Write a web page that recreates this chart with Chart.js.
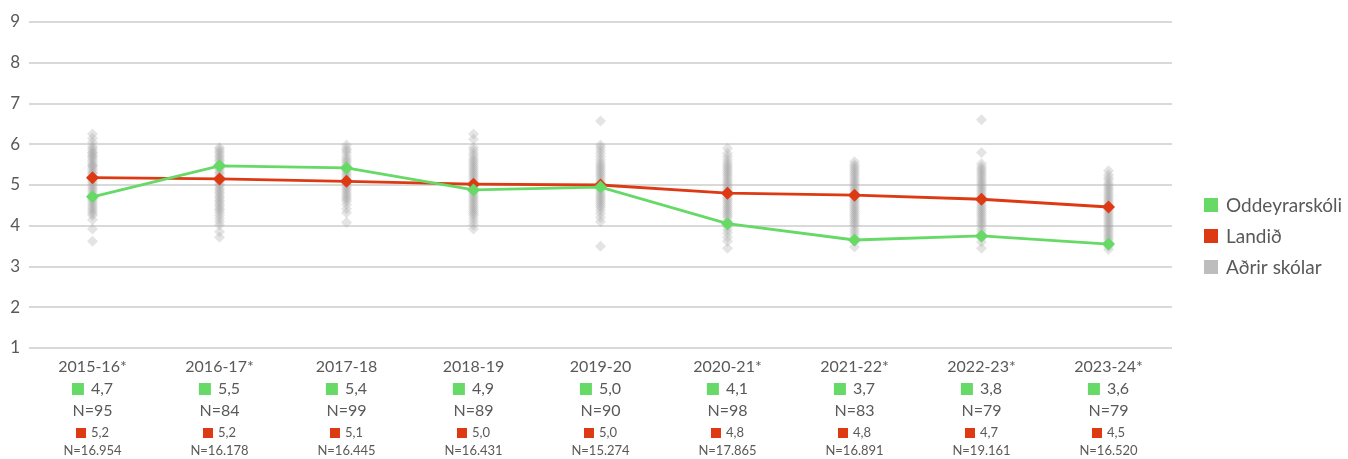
<!DOCTYPE html>
<html>
<head>
<meta charset="utf-8">
<script src="https://cdn.jsdelivr.net/npm/chart.js@4"></script>
<style>
html,body{margin:0;padding:0;background:#fff;}
#wrap{width:1348px;height:459px;}
</style>
</head>
<body>
<div id="wrap"><canvas id="c" width="1348" height="459"></canvas></div>
<script>
const categories = ['2015-16*','2016-17*','2017-18','2018-19','2019-20','2020-21*','2021-22*','2022-23*','2023-24*'];
const seriesNames = ['Oddeyrarskóli','Landið','Aðrir skólar'];
const oddeyrarskoli = [4.71, 5.47, 5.42, 4.88, 4.95, 4.05, 3.65, 3.75, 3.55];
const landid = [5.18, 5.15, 5.09, 5.02, 5.0, 4.8, 4.75, 4.65, 4.46];
const oddeyrarskoliLabels = ['4,7','5,5','5,4','4,9','5,0','4,1','3,7','3,8','3,6'];
const oddeyrarskoliN = ['95','84','99','89','90','98','83','79','79'];
const landidLabels = ['5,2','5,2','5,1','5,0','5,0','4,8','4,8','4,7','4,5'];
const landidN = ['16.954','16.178','16.445','16.431','15.274','17.865','16.891','19.161','16.520'];
const yTicks = [1,2,3,4,5,6,7,8,9];

const others1516 = [6.25,6.15,6.05,5.95,5.9,5.85,5.8,5.78,5.72,5.7,5.65,5.6,5.55,5.5,5.48,5.45,5.4,5.35,5.3,5.28,5.22,5.2,5.15,5.1,5.05,5.0,4.95,4.9,4.85,4.8,4.75,4.7,4.65,4.6,4.55,4.5,4.45,4.4,4.35,4.3,4.25,4.15,3.92,3.62];
const others1617 = [5.92,5.88,5.82,5.78,5.72,5.68,5.62,5.58,5.52,5.48,5.42,5.38,5.32,5.28,5.22,5.18,5.12,5.08,5.02,4.98,4.92,4.88,4.82,4.78,4.72,4.68,4.62,4.58,4.52,4.48,4.42,4.38,4.32,4.25,4.18,4.1,4.02,3.85,3.72];
const others1718 = [5.98,5.9,5.85,5.8,5.72,5.65,5.6,5.55,5.5,5.45,5.4,5.35,5.3,5.25,5.2,5.15,5.1,5.05,5.0,4.95,4.9,4.85,4.8,4.75,4.7,4.65,4.6,4.52,4.42,4.32,4.08];
const others1819 = [6.25,6.12,5.92,5.85,5.78,5.72,5.65,5.6,5.55,5.5,5.45,5.4,5.35,5.3,5.25,5.2,5.15,5.1,5.05,5.0,4.95,4.9,4.85,4.8,4.75,4.7,4.65,4.6,4.55,4.5,4.45,4.4,4.35,4.3,4.25,4.18,4.1,4.02,3.92];
const others1920 = [6.57,5.98,5.92,5.85,5.78,5.7,5.62,5.55,5.5,5.45,5.4,5.35,5.3,5.25,5.2,5.15,5.1,5.05,5.0,4.95,4.9,4.85,4.8,4.75,4.7,4.65,4.6,4.55,4.5,4.45,4.38,4.3,4.2,4.1,3.5];
const others2021 = [5.9,5.78,5.7,5.62,5.55,5.5,5.45,5.4,5.35,5.3,5.25,5.2,5.15,5.1,5.05,5.0,4.95,4.9,4.85,4.8,4.75,4.7,4.65,4.6,4.55,4.5,4.45,4.4,4.35,4.3,4.25,4.2,4.12,4.05,3.98,3.9,3.82,3.72,3.62,3.45];
const others2122 = [5.57,5.5,5.45,5.4,5.35,5.3,5.25,5.2,5.15,5.1,5.05,5.0,4.95,4.9,4.85,4.8,4.75,4.7,4.65,4.6,4.55,4.5,4.45,4.4,4.35,4.3,4.25,4.2,4.15,4.1,4.05,4.0,3.92,3.85,3.78,3.7,3.62,3.48];
const others2223 = [6.6,5.8,5.52,5.45,5.4,5.35,5.3,5.25,5.2,5.15,5.1,5.05,5.0,4.95,4.9,4.85,4.8,4.75,4.7,4.65,4.6,4.55,4.5,4.45,4.4,4.35,4.3,4.25,4.2,4.15,4.1,4.05,4.0,3.92,3.85,3.78,3.7,3.6,3.45];
const others2324 = [5.35,5.25,5.18,5.12,5.05,5.0,4.95,4.9,4.85,4.8,4.75,4.7,4.65,4.6,4.55,4.5,4.45,4.4,4.35,4.3,4.25,4.2,4.15,4.1,4.05,4.0,3.95,3.9,3.85,3.8,3.75,3.7,3.65,3.58,3.5,3.42];
const otherSchools = [others1516,others1617,others1718,others1819,others1920,others2021,others2122,others2223,others2324];

const GREEN = '#66d966';
const RED = '#dd3a13';
const GRAY = '#bdbdbd';
const TEXT = '#595959';
const FONT = 'Lato, "Open Sans", sans-serif';

const otherPoints = [];
otherSchools.forEach((vals, i) => vals.forEach(v => otherPoints.push({x: categories[i], y: v})));

const labelsPlugin = {
  id: 'extraLabels',
  afterDraw(chart) {
    const ctx = chart.ctx;
    const xs = chart.scales.x;
    ctx.save();
    ctx.fillStyle = TEXT;
    ctx.textBaseline = 'middle';
    categories.forEach((c, i) => {
      const x = xs.getPixelForValue(i);
      ctx.font = '16px ' + FONT;
      let t = oddeyrarskoliLabels[i];
      let w = ctx.measureText(t).width;
      let sq = 12, gap = 7;
      let start = x - (sq + gap + w) / 2;
      ctx.fillStyle = GREEN;
      ctx.fillRect(start, 389 - sq / 2, sq, sq);
      ctx.fillStyle = TEXT;
      ctx.textAlign = 'left';
      ctx.fillText(t, start + sq + gap, 389);
      ctx.textAlign = 'center';
      ctx.fillText('N=' + oddeyrarskoliN[i], x, 411);
      ctx.font = '13px ' + FONT;
      t = landidLabels[i];
      w = ctx.measureText(t).width;
      sq = 10; gap = 5;
      start = x - (sq + gap + w) / 2;
      ctx.fillStyle = RED;
      ctx.fillRect(start, 433 - sq / 2, sq, sq);
      ctx.fillStyle = TEXT;
      ctx.textAlign = 'left';
      ctx.fillText(t, start + sq + gap, 433);
      ctx.textAlign = 'center';
      ctx.fillText('N=' + landidN[i], x, 451);
    });
    const colors = [GREEN, RED, GRAY];
    const ys = [205, 236, 267];
    ctx.font = '19px ' + FONT;
    ctx.textAlign = 'left';
    seriesNames.forEach((n, i) => {
      ctx.fillStyle = colors[i];
      ctx.fillRect(1204, ys[i] - 7, 14, 14);
      ctx.fillStyle = TEXT;
      ctx.fillText(n, 1226, ys[i] + 1);
    });
    ctx.restore();
  }
};

new Chart(document.getElementById('c'), {
  type: 'line',
  data: {
    labels: categories,
    datasets: [
      {
        label: seriesNames[0], data: oddeyrarskoli,
        borderColor: GREEN, backgroundColor: GREEN, borderWidth: 2.8, tension: 0,
        pointStyle: 'rectRot', pointRadius: 6.5, pointBackgroundColor: GREEN, pointBorderWidth: 0
      },
      {
        label: seriesNames[1], data: landid,
        borderColor: RED, backgroundColor: RED, borderWidth: 2.8, tension: 0,
        pointStyle: 'rectRot', pointRadius: 6.5, pointBackgroundColor: RED, pointBorderWidth: 0
      },
      {
        type: 'scatter', label: seriesNames[2], data: otherPoints,
        borderColor: GRAY, backgroundColor: GRAY, showLine: false,
        pointStyle: 'rectRot', pointRadius: 5.5, pointBackgroundColor: 'rgba(165,165,165,0.3)', pointBorderWidth: 0
      }
    ]
  },
  options: {
    responsive: false,
    animation: false,
    devicePixelRatio: 1,
    layout: { padding: { top: 22, right: 176, left: 0, bottom: 0 } },
    plugins: { legend: { display: false }, tooltip: { enabled: false } },
    scales: {
      x: {
        type: 'category',
        offset: true,
        afterFit(s) { s.height = 111; },
        grid: { display: false, drawTicks: false },
        border: { display: false },
        ticks: { color: TEXT, font: { family: FONT, size: 16 }, padding: 9, maxRotation: 0, autoSkip: false }
      },
      y: {
        min: 1, max: 9,
        afterFit(s) { s.width = 29; },
        afterBuildTicks(s) { s.ticks = yTicks.map(v => ({ value: v })); },
        grid: { color: '#d9d9d9', lineWidth: 2, drawTicks: false },
        border: { display: false },
        ticks: { color: TEXT, font: { family: FONT, size: 17 }, padding: 9 }
      }
    }
  },
  plugins: [labelsPlugin]
});
</script>
</body>
</html>
